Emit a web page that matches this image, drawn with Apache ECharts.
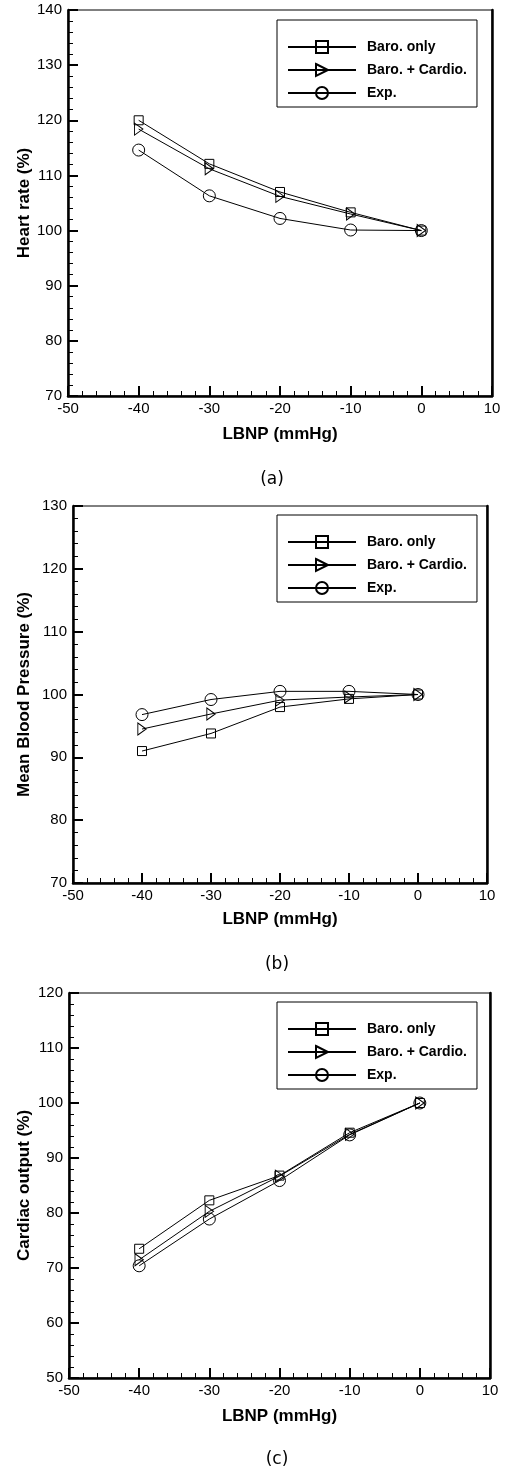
<!DOCTYPE html>
<html><head><meta charset="utf-8">
<script src="https://cdn.jsdelivr.net/npm/echarts@6/dist/echarts.min.js"></script>
<style>html,body{margin:0;padding:0;background:#fff}#c{width:506px;height:1467px}</style>
</head><body><div id="c"></div>
<script>
// ---- data ----
const lbnp = [-40, -30, -20, -10, 0];
const seriesNames = ['Baro. only', 'Baro. + Cardio.', 'Exp.'];
const hrBaro = [120.0, 112.1, 107.0, 103.3, 100.0];
const hrBaroCardio = [118.4, 111.2, 106.2, 103.0, 100.0];
const hrExp = [114.6, 106.3, 102.2, 100.1, 100.0];
const mbpBaro = [91.0, 93.8, 98.0, 99.3, 100.0];
const mbpBaroCardio = [94.5, 96.9, 99.1, 99.6, 100.0];
const mbpExp = [96.8, 99.2, 100.5, 100.5, 100.0];
const coBaro = [73.5, 82.3, 86.8, 94.6, 100.0];
const coBaroCardio = [71.5, 80.3, 86.7, 94.3, 100.0];
const coExp = [70.4, 78.9, 85.9, 94.2, 100.0];
const yTitles = ['Heart rate (%)', 'Mean Blood Pressure (%)', 'Cardiac output (%)'];
const xTitle = 'LBNP (mmHg)';
const captions = ['(a)', '(b)', '(c)'];
const yMins = [70, 70, 50];
const yMaxs = [140, 130, 120];
const xMin = -50, xMax = 10;

// ---- layout ----
const panelData = [[hrBaro, hrBaroCardio, hrExp], [mbpBaro, mbpBaroCardio, mbpExp], [coBaro, coBaroCardio, coExp]];
const grids = [
  {left: 68, top: 10, width: 424, height: 386},
  {left: 73, top: 506, width: 414, height: 377},
  {left: 69, top: 993, width: 421, height: 385}
];
const yNameGaps = [35, 40, 36];
const xNameGaps = [30, 28, 30];
const legendPos = [{left: 277, top: 20}, {left: 277, top: 515}, {left: 277, top: 1002}];
const captionPos = [{x: 267, y: 476}, {x: 272, y: 961}, {x: 272, y: 1456}];
const FONT = 'Liberation Sans, Arial, sans-serif';
const symbols = ['rect', 'path://M0,0 L10,6 L0,12 Z', 'circle'];
const symbolSizes = [9, [10, 12], 12];

const option = {
  animation: false,
  backgroundColor: '#fff',
  grid: [], xAxis: [], yAxis: [], series: [], legend: [], title: []
};

for (let p = 0; p < 3; p++) {
  const g = grids[p];
  option.grid.push(Object.assign({show: true, borderColor: '#000', borderWidth: 1, backgroundColor: 'transparent'}, g));
  option.xAxis.push({
    type: 'value', gridIndex: p, min: xMin, max: xMax, interval: 10,
    axisLine: {onZero: false, lineStyle: {color: '#000', width: 2.5}},
    axisTick: {inside: true, length: 10, lineStyle: {color: '#000', width: 2}},
    minorTick: {show: true, splitNumber: 5, length: 5, lineStyle: {color: '#000', width: 1}},
    splitLine: {show: false},
    axisLabel: {color: '#000', fontSize: 15, fontFamily: FONT, margin: 5},
    name: xTitle, nameLocation: 'middle', nameGap: xNameGaps[p],
    nameTextStyle: {color: '#000', fontSize: 17, fontWeight: 'bold', fontFamily: FONT}
  });
  option.yAxis.push({
    type: 'value', gridIndex: p, min: yMins[p], max: yMaxs[p], interval: 10,
    axisLine: {onZero: false, lineStyle: {color: '#000', width: 2.5}},
    axisTick: {inside: true, length: 10, lineStyle: {color: '#000', width: 2}},
    minorTick: {show: true, splitNumber: 5, length: 5, lineStyle: {color: '#000', width: 1}},
    splitLine: {show: false},
    axisLabel: {color: '#000', fontSize: 15, fontFamily: FONT, margin: 6},
    name: yTitles[p], nameLocation: 'middle', nameGap: yNameGaps[p], nameMoveOverlap: false,
    nameTextStyle: {color: '#000', fontSize: 17, fontWeight: 'bold', fontFamily: FONT}
  });
  // right frame
  option.yAxis.push({
    type: 'value', gridIndex: p, position: 'right', min: yMins[p], max: yMaxs[p], interval: 10,
    axisLine: {show: true, onZero: false, lineStyle: {color: '#000', width: 2.5}},
    axisTick: {show: false}, axisLabel: {show: false}, splitLine: {show: false}
  });
  for (let s = 0; s < 3; s++) {
    option.series.push({
      type: 'line', name: seriesNames[s], xAxisIndex: p, yAxisIndex: p * 2,
      data: lbnp.map((x, i) => [x, panelData[p][s][i]]),
      symbol: symbols[s], symbolSize: symbolSizes[s], symbolKeepAspect: true,
      showAllSymbol: true,
      lineStyle: {color: '#000', width: 1},
      itemStyle: {color: 'rgba(255,255,255,0)', borderColor: '#000', borderWidth: 1},
      emphasis: {disabled: true}
    });
  }
  option.legend.push({
    data: seriesNames, orient: 'vertical', left: legendPos[p].left, top: legendPos[p].top,
    itemWidth: 68, itemHeight: 15, itemGap: 9, padding: [20, 10, 7, 10],
    borderColor: '#000', borderWidth: 1, backgroundColor: '#fff',
    selectedMode: false,
    textStyle: {color: '#000', fontSize: 14, fontWeight: 'bold', fontFamily: FONT, padding: [0, 0, 0, 6]}
  });
  option.title.push({
    text: captions[p], left: captionPos[p].x, top: captionPos[p].y - 10, textAlign: 'center',
    textStyle: {color: '#000', fontSize: 17, fontWeight: 'normal', fontFamily: 'DejaVu Sans, sans-serif'}
  });
}

const chart = echarts.init(document.getElementById('c'), null, {renderer: 'canvas'});
chart.setOption(option);
</script>
</body></html>
